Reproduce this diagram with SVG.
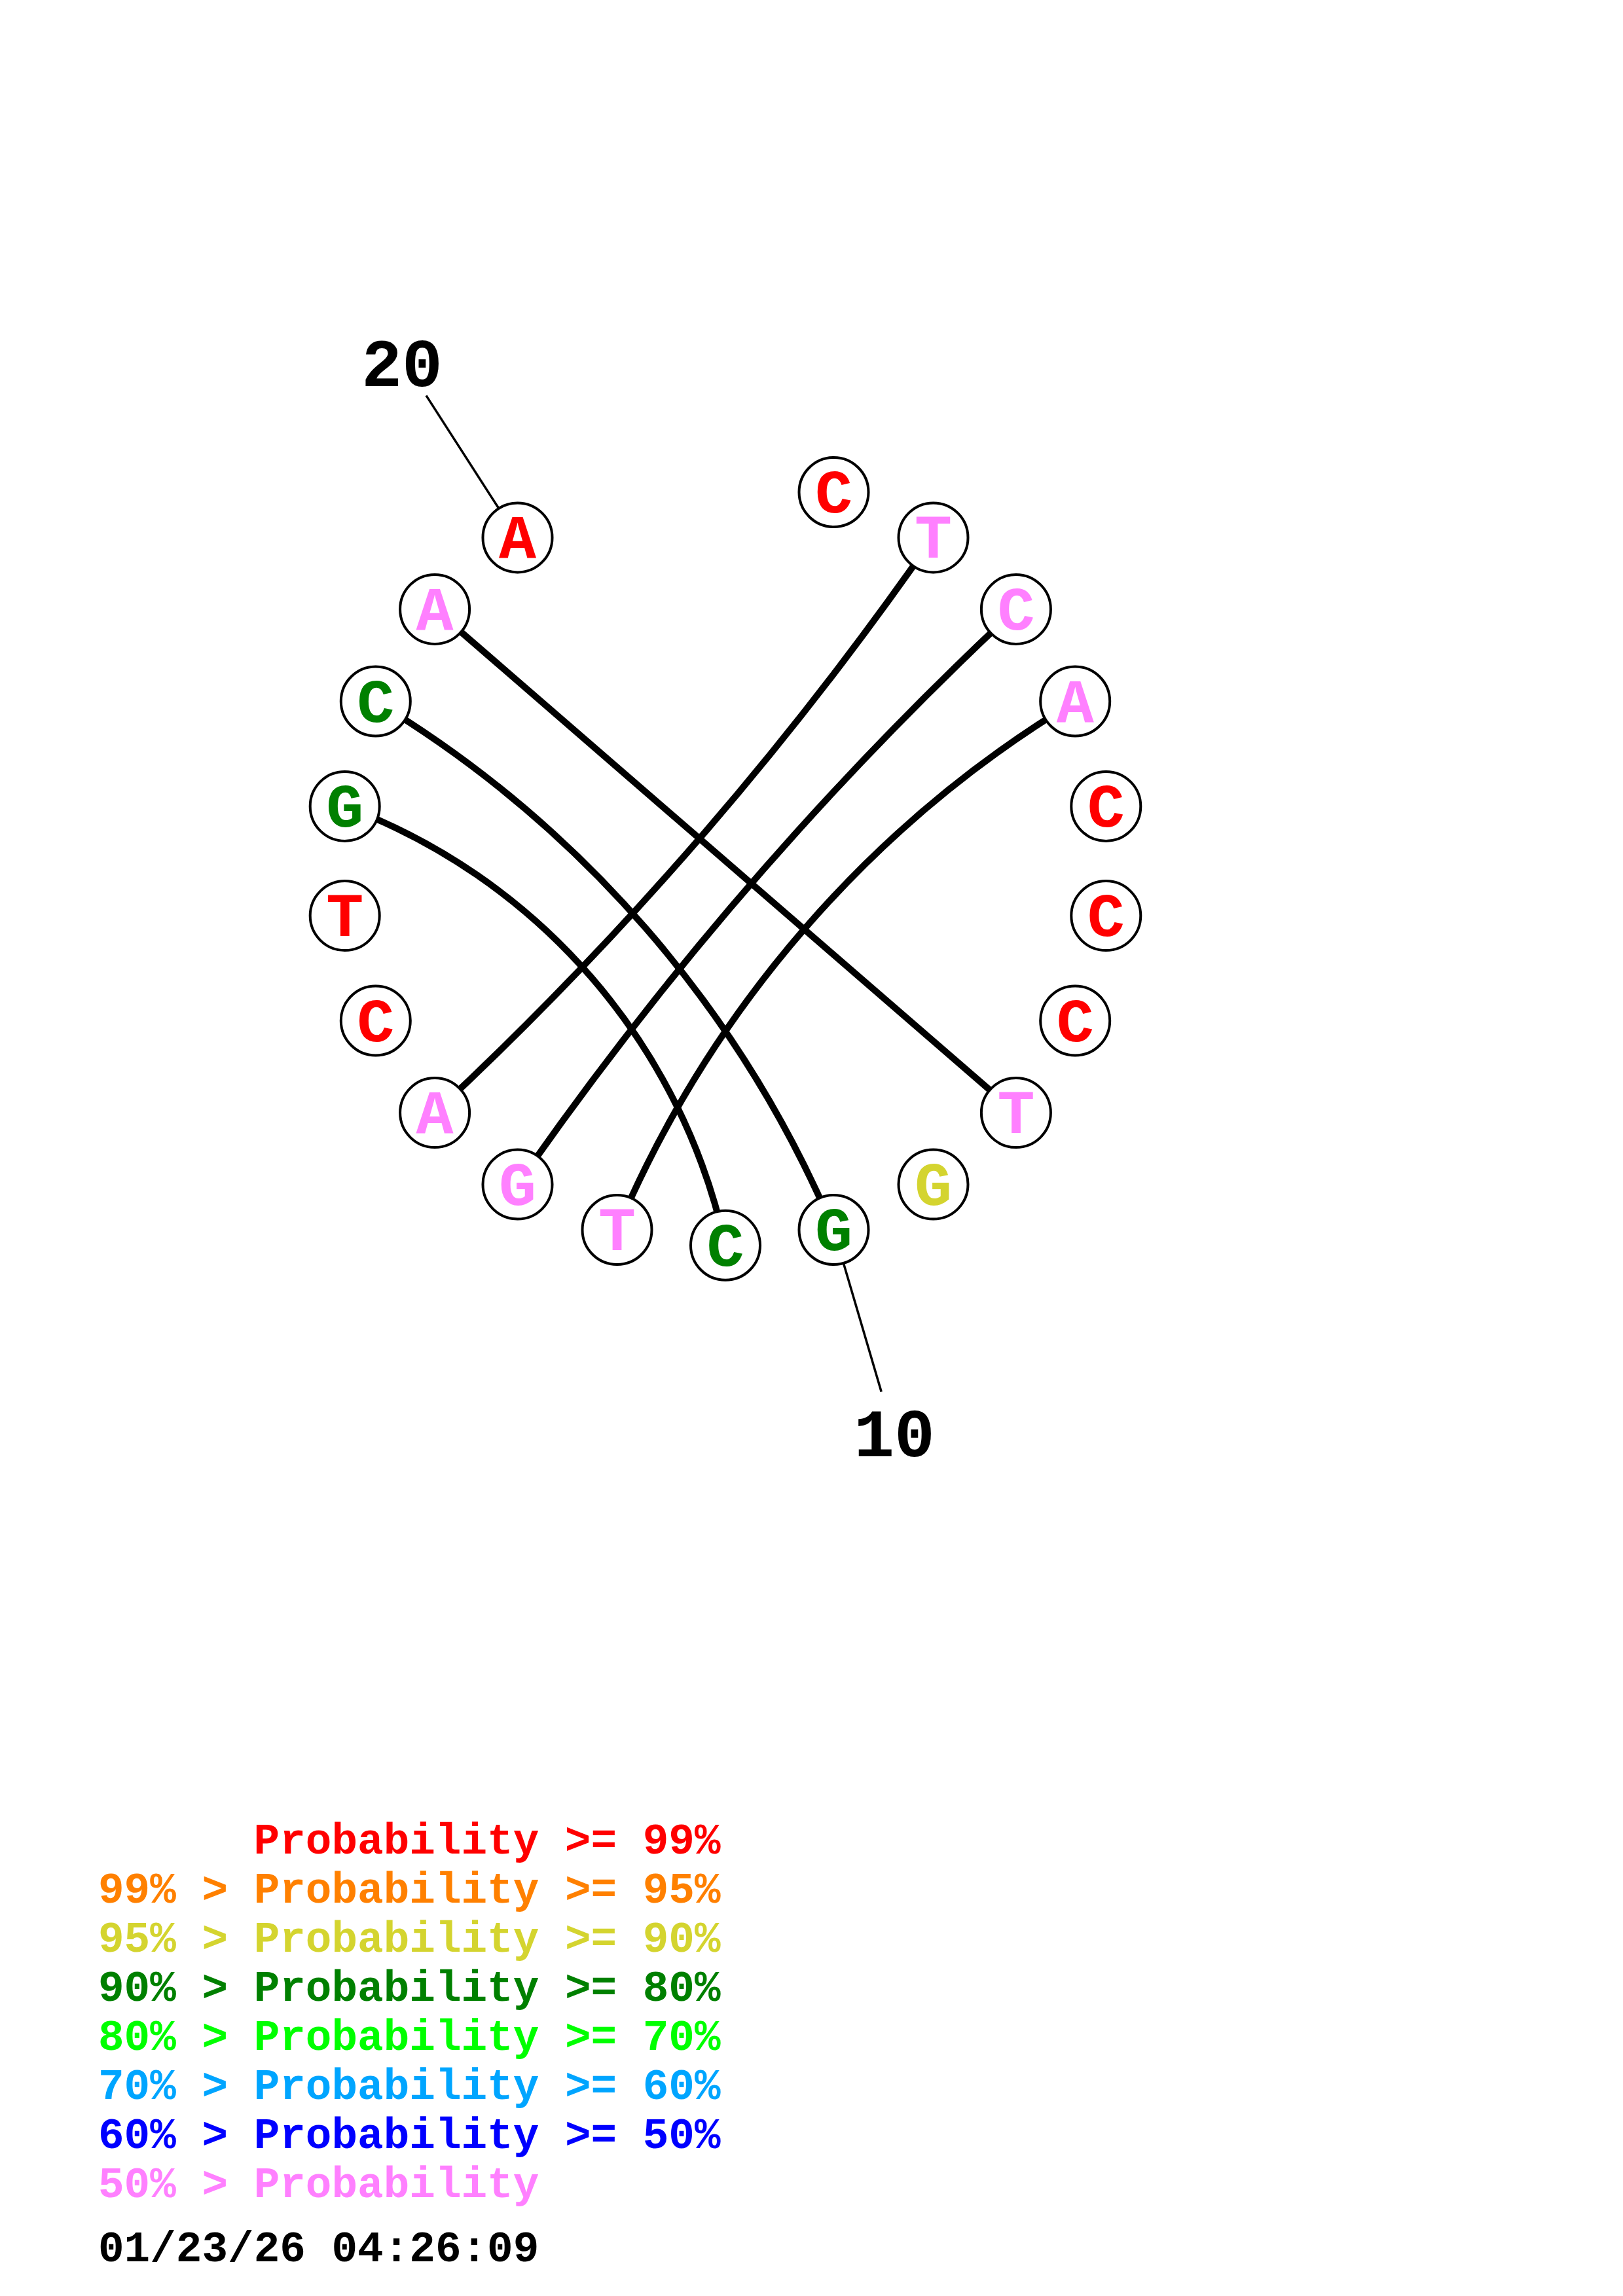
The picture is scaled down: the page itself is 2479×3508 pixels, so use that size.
<svg xmlns="http://www.w3.org/2000/svg" width="2479" height="3508" viewBox="0 0 2479 3508">
<style>
.bg{fill:#ffffff}
.arc{fill:none;stroke:#000000;stroke-width:10}
.tick{fill:none;stroke:#000000;stroke-width:3.5}
.node circle{fill:#ffffff;stroke:#000000;stroke-width:4}
.node text{font-family:"Liberation Mono","Courier New",monospace;font-weight:bold;font-size:95px;text-anchor:middle}
.num{font-family:"Liberation Mono","Courier New",monospace;font-weight:bold;font-size:103px;text-anchor:middle;fill:#000000}
.leg{font-family:"Liberation Mono","Courier New",monospace;font-weight:bold;font-size:66px}
.red{fill:#ff0000}.org{fill:#ff8000}.yel{fill:#d4d42f}.dgr{fill:#008000}.grn{fill:#00ff00}.lbl{fill:#00a5ff}.blu{fill:#0000ff}.pnk{fill:#ff80ff}.blk{fill:#000000}
</style>
<rect class="bg" x="0" y="0" width="2479" height="3508"/>
<g id="connectors">
<path class="arc" d="M664.1,930.9 L1551.9,1700.1"/>
<path class="arc" d="M573.8,1071.5 A1726,1726 0 0 1 1273.5,1879.0"/>
<path class="arc" d="M526.7,1231.9 A925,925 0 0 1 1108,1902.8"/>
<path class="arc" d="M1425.5,821.4 A5439,5439 0 0 1 664.1,1700.1"/>
<path class="arc" d="M1551.9,930.9 A5439,5439 0 0 0 790.5,1809.6"/>
<path class="arc" d="M1642.2,1071.5 A1726,1726 0 0 0 942.5,1879.0"/>
<path class="tick" d="M761.8,776.8 L651.0,604.4"/>
<path class="tick" d="M1288.4,1929.9 L1346.2,2126.5"/>
</g>
<g id="n1" class="node"><circle cx="1273.5" cy="752.0" r="53"/><text x="1273.5" y="783.0" class="red">C</text></g>
<g id="n2" class="node"><circle cx="1425.5" cy="821.4" r="53"/><text x="1425.5" y="852.4" class="pnk">T</text></g>
<g id="n3" class="node"><circle cx="1551.9" cy="930.9" r="53"/><text x="1551.9" y="961.9" class="pnk">C</text></g>
<g id="n4" class="node"><circle cx="1642.2" cy="1071.5" r="53"/><text x="1642.2" y="1102.5" class="pnk">A</text></g>
<g id="n5" class="node"><circle cx="1689.3" cy="1231.9" r="53"/><text x="1689.3" y="1262.9" class="red">C</text></g>
<g id="n6" class="node"><circle cx="1689.3" cy="1399.1" r="53"/><text x="1689.3" y="1430.1" class="red">C</text></g>
<g id="n7" class="node"><circle cx="1642.2" cy="1559.5" r="53"/><text x="1642.2" y="1590.5" class="red">C</text></g>
<g id="n8" class="node"><circle cx="1551.9" cy="1700.1" r="53"/><text x="1551.9" y="1731.1" class="pnk">T</text></g>
<g id="n9" class="node"><circle cx="1425.5" cy="1809.6" r="53"/><text x="1425.5" y="1840.6" class="yel">G</text></g>
<g id="n10" class="node"><circle cx="1273.5" cy="1879.0" r="53"/><text x="1273.5" y="1910.0" class="dgr">G</text></g>
<g id="n11" class="node"><circle cx="1108" cy="1902.8" r="53"/><text x="1108" y="1933.8" class="dgr">C</text></g>
<g id="n12" class="node"><circle cx="942.5" cy="1879.0" r="53"/><text x="942.5" y="1910.0" class="pnk">T</text></g>
<g id="n13" class="node"><circle cx="790.5" cy="1809.6" r="53"/><text x="790.5" y="1840.6" class="pnk">G</text></g>
<g id="n14" class="node"><circle cx="664.1" cy="1700.1" r="53"/><text x="664.1" y="1731.1" class="pnk">A</text></g>
<g id="n15" class="node"><circle cx="573.8" cy="1559.5" r="53"/><text x="573.8" y="1590.5" class="red">C</text></g>
<g id="n16" class="node"><circle cx="526.7" cy="1399.1" r="53"/><text x="526.7" y="1430.1" class="red">T</text></g>
<g id="n17" class="node"><circle cx="526.7" cy="1231.9" r="53"/><text x="526.7" y="1262.9" class="dgr">G</text></g>
<g id="n18" class="node"><circle cx="573.8" cy="1071.5" r="53"/><text x="573.8" y="1102.5" class="dgr">C</text></g>
<g id="n19" class="node"><circle cx="664.1" cy="930.9" r="53"/><text x="664.1" y="961.9" class="pnk">A</text></g>
<g id="n20" class="node"><circle cx="790.5" cy="821.4" r="53"/><text x="790.5" y="852.4" class="red">A</text></g>
<g id="labels">
<text class="num" x="614" y="590">20</text>
<text class="num" x="1366" y="2225">10</text>
</g>
<g id="legend">
<text class="leg red" x="387.6" y="2832">Probability &gt;= 99%</text>
<text class="leg org" x="150" y="2907">99% &gt; Probability &gt;= 95%</text>
<text class="leg yel" x="150" y="2982">95% &gt; Probability &gt;= 90%</text>
<text class="leg dgr" x="150" y="3057">90% &gt; Probability &gt;= 80%</text>
<text class="leg grn" x="150" y="3132">80% &gt; Probability &gt;= 70%</text>
<text class="leg lbl" x="150" y="3207">70% &gt; Probability &gt;= 60%</text>
<text class="leg blu" x="150" y="3282">60% &gt; Probability &gt;= 50%</text>
<text class="leg pnk" x="150" y="3357">50% &gt; Probability</text>
<text class="leg blk" x="150" y="3455">01/23/26 04:26:09</text>
</g>
</svg>
